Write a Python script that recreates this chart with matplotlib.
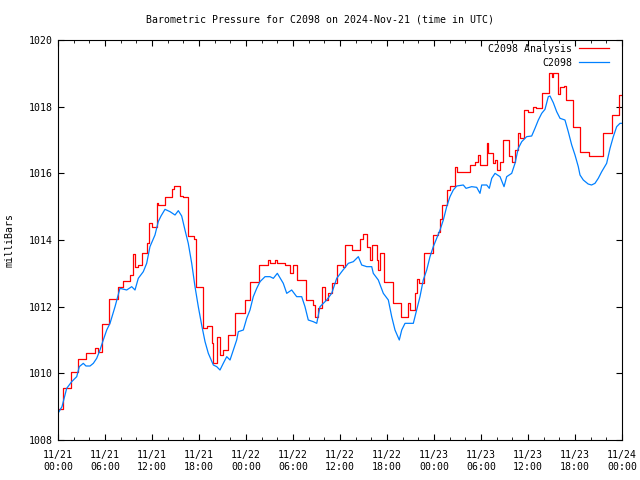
import matplotlib
matplotlib.use("Agg")
import matplotlib.pyplot as plt
from matplotlib.ticker import MultipleLocator

# hours since 2024-11-21 00:00 UTC
analysis_hours = [0.0, 0.60, 1.62, 2.59, 3.57, 4.72, 5.11, 5.58, 6.55, 7.70, 8.26, 9.19, 9.61,
                  9.77, 10.21, 10.69, 11.32, 11.66, 12.0, 12.60, 12.77, 13.66, 14.51, 14.85,
                  15.57, 15.92, 16.56, 17.36, 17.62, 18.55, 18.98, 19.62, 19.83, 20.26, 20.68,
                  21.10, 21.74, 22.60, 23.87, 24.51, 25.70, 26.77, 27.06, 27.70, 27.92, 28.98,
                  29.62, 29.96, 30.55, 31.66, 32.59, 32.81, 33.23, 33.66, 34.09, 34.51, 34.94,
                  35.58, 36.42, 36.68, 37.49, 38.55, 38.97, 39.41, 39.83, 40.05, 40.69, 40.89,
                  41.11, 41.62, 42.73, 43.75, 44.72, 44.94, 45.57, 45.87, 46.12, 46.72, 47.83,
                  48.55, 48.77, 48.98, 49.62, 50.04, 50.68, 50.90, 52.60, 53.23, 53.66, 53.87,
                  54.73, 54.93, 55.57, 55.79, 56.00, 56.43, 56.77, 57.61, 57.92, 58.34, 58.69,
                  58.98, 59.53, 60.04, 60.68, 61.02, 61.75, 62.72, 63.03, 63.19, 63.79, 64.09,
                  64.63, 64.85, 65.71, 66.64, 67.83, 69.61, 70.68, 71.66, 72.0]
analysis_mb = [1008.93, 1009.55, 1010.03, 1010.42, 1010.62, 1010.75, 1010.65, 1011.47, 1012.22,
               1012.6, 1012.77, 1012.95, 1013.58, 1013.2, 1013.25, 1013.6, 1013.9, 1014.5,
               1014.4, 1015.12, 1015.05, 1015.28, 1015.52, 1015.62, 1015.32, 1015.28, 1014.12,
               1014.02, 1012.58, 1011.37, 1011.42, 1010.9, 1010.32, 1011.08, 1010.55, 1010.7,
               1011.15, 1011.8, 1012.2, 1012.75, 1013.25, 1013.4, 1013.3, 1013.4, 1013.3,
               1013.25, 1013.0, 1013.25, 1012.8, 1012.2, 1012.05, 1011.7, 1011.95, 1012.6,
               1012.2, 1012.4, 1012.7, 1013.25, 1013.2, 1013.85, 1013.7, 1014.02, 1014.18,
               1013.8, 1013.4, 1013.85, 1013.4, 1013.1, 1013.6, 1012.75, 1012.12, 1011.7,
               1012.1, 1011.9, 1012.4, 1012.82, 1012.7, 1013.62, 1014.15, 1014.25, 1014.62,
               1015.05, 1015.5, 1015.63, 1016.2, 1016.05, 1016.25, 1016.35, 1016.55, 1016.25,
               1016.92, 1016.6, 1016.3, 1016.4, 1016.1, 1016.35, 1017.0, 1016.52, 1016.35,
               1016.7, 1017.22, 1017.05, 1017.9, 1017.85, 1018.0, 1017.95, 1018.4, 1019.0,
               1018.9, 1019.0, 1018.38, 1018.6, 1018.62, 1018.2, 1017.4, 1016.65, 1016.52,
               1017.2, 1017.75, 1018.35, 1018.35]

station_hours = [0.0, 0.51, 1.11, 1.75, 2.39, 2.72, 3.23, 3.57, 4.09, 4.51, 4.94, 5.36, 5.78,
                 6.22, 6.64, 7.28, 7.91, 8.77, 9.41, 9.83, 10.25, 10.89, 11.32, 11.74, 12.38,
                 12.80, 13.15, 13.66, 14.30, 14.94, 15.36, 15.79, 16.21, 16.63, 17.07, 17.49,
                 17.91, 18.34, 18.77, 19.19, 19.83, 20.26, 20.68, 21.10, 21.54, 21.96, 22.38,
                 22.81, 23.02, 23.66, 24.09, 24.51, 24.93, 25.37, 25.79, 26.43, 27.06, 27.49,
                 28.00, 28.76, 29.20, 29.83, 30.47, 31.11, 31.53, 31.95, 32.59, 33.03, 33.45,
                 34.30, 34.94, 35.58, 36.22, 37.06, 37.70, 38.34, 38.77, 39.41, 40.05, 40.25,
                 40.89, 41.53, 42.17, 42.60, 43.02, 43.57, 43.88, 44.30, 45.36, 45.79, 46.21,
                 46.63, 47.07, 47.49, 47.91, 48.34, 48.77, 49.19, 49.62, 50.04, 50.46, 50.90,
                 51.74, 52.09, 52.81, 53.45, 53.87, 54.09, 54.73, 55.06, 55.37, 55.79, 56.43,
                 56.94, 57.28, 57.92, 58.34, 58.76, 59.20, 59.83, 60.47, 60.89, 61.32, 61.75,
                 62.17, 62.59, 62.81, 63.23, 63.66, 64.09, 64.72, 65.14, 65.58, 66.00, 66.42,
                 66.64, 67.06, 67.68, 68.11, 68.55, 68.97, 69.41, 70.04, 70.47, 70.89, 71.32,
                 71.74, 72.0]
station_mb = [1008.8, 1009.0, 1009.55, 1009.75, 1009.9, 1010.2, 1010.3, 1010.22, 1010.22,
              1010.3, 1010.45, 1010.7, 1011.0, 1011.3, 1011.5, 1012.0, 1012.55, 1012.5, 1012.6,
              1012.5, 1012.85, 1013.05, 1013.3, 1013.8, 1014.15, 1014.55, 1014.72, 1014.92,
              1014.85, 1014.75, 1014.88, 1014.72, 1014.3, 1013.9, 1013.3, 1012.6, 1012.0,
              1011.45, 1010.95, 1010.6, 1010.25, 1010.2, 1010.1, 1010.3, 1010.5, 1010.4,
              1010.7, 1011.0, 1011.25, 1011.3, 1011.65, 1011.9, 1012.3, 1012.55, 1012.75,
              1012.9, 1012.9, 1012.85, 1013.0, 1012.7, 1012.4, 1012.5, 1012.3, 1012.3, 1012.0,
              1011.6, 1011.55, 1011.5, 1012.0, 1012.2, 1012.4, 1012.85, 1013.05, 1013.3,
              1013.35, 1013.5, 1013.25, 1013.2, 1013.2, 1013.0, 1012.8, 1012.4, 1012.2,
              1011.7, 1011.3, 1011.0, 1011.3, 1011.5, 1011.5, 1011.9, 1012.3, 1012.8, 1013.1,
              1013.5, 1013.8, 1014.05, 1014.3, 1014.6, 1015.0, 1015.3, 1015.5, 1015.62,
              1015.65, 1015.55, 1015.6, 1015.58, 1015.4, 1015.65, 1015.65, 1015.55, 1015.85,
              1016.0, 1015.9, 1015.6, 1015.9, 1016.0, 1016.3, 1016.75, 1016.95, 1017.1,
              1017.12, 1017.35, 1017.6, 1017.8, 1017.92, 1018.3, 1018.32, 1018.12, 1017.85,
              1017.65, 1017.6, 1017.25, 1016.85, 1016.55, 1016.2, 1015.95, 1015.8, 1015.68,
              1015.65, 1015.7, 1015.85, 1016.05, 1016.3, 1016.75, 1017.1, 1017.4, 1017.5,
              1017.5]

tick_labels = ["11/21\n00:00", "11/21\n06:00", "11/21\n12:00", "11/21\n18:00",
               "11/22\n00:00", "11/22\n06:00", "11/22\n12:00", "11/22\n18:00",
               "11/23\n00:00", "11/23\n06:00", "11/23\n12:00", "11/23\n18:00",
               "11/24\n00:00"]

plt.rcParams['font.family'] = 'DejaVu Sans Mono'
fs = 7.1

fig = plt.figure(figsize=(6.4, 4.8), dpi=100)
ax = fig.add_axes([58 / 640, 40 / 480, 564 / 640, 400 / 480])

ax.plot(analysis_hours, analysis_mb, color='#ff0000', lw=0.9, drawstyle='steps-post',
        label='C2098 Analysis')
ax.plot(station_hours, station_mb, color='#0080ff', lw=0.9, label='C2098')

ax.set_xlim(0, 72)
ax.set_ylim(1008, 1020)
ax.set_xticks(range(0, 73, 6))
ax.set_xticklabels(tick_labels, fontsize=fs, linespacing=1.25)
ax.xaxis.set_minor_locator(MultipleLocator(2))
ax.set_yticks(range(1008, 1021, 2))
ax.set_yticklabels([str(v) for v in range(1008, 1021, 2)], fontsize=fs)
ax.tick_params(which='both', direction='in', top=True, right=True)
ax.tick_params(which='major', length=4, pad=4)
ax.tick_params(which='minor', length=2)
ax.tick_params(axis='x', pad=7)

fig.text(0.5, 1 - 20 / 480, "Barometric Pressure for C2098 on 2024-Nov-21 (time in UTC)",
         ha='center', va='center', fontsize=fs)
fig.text(10 / 640, 0.5, "milliBars", rotation=90, ha='center', va='center', fontsize=fs)

ax.legend(loc='upper right', bbox_to_anchor=(0.989, 1.0075), frameon=False,
          markerfirst=False, fontsize=fs, handlelength=3.0, handletextpad=0.7,
          labelspacing=0.4, borderaxespad=0.3, alignment='right')

fig.savefig("out.png", dpi=100)
